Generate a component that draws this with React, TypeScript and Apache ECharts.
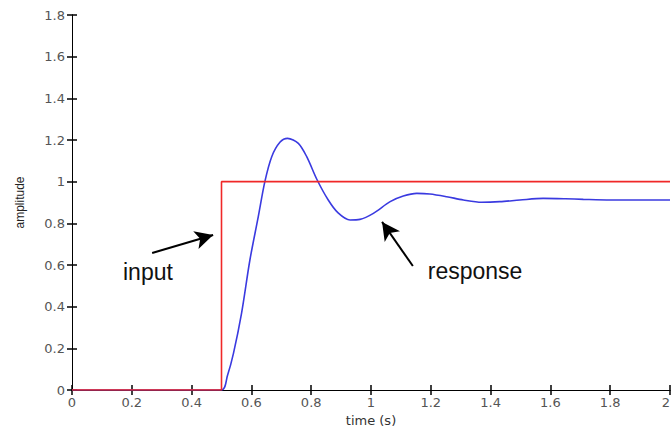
import React, { useEffect, useRef } from "react";
import * as echarts from "echarts";

const timeValues = [0, 0.5, 0.52, 0.54, 0.567, 0.595, 0.623, 0.645, 0.668, 0.696, 0.721, 0.757, 0.785, 0.82, 0.857, 0.89, 0.93, 0.963, 1.008, 1.064, 1.108, 1.153, 1.197, 1.253, 1.309, 1.37, 1.431, 1.498, 1.576, 1.65, 1.71, 1.8, 1.9, 2.0];
const responseValues = [0, 0, 0.07, 0.176, 0.368, 0.624, 0.832, 1.0, 1.12, 1.19, 1.208, 1.184, 1.12, 1.008, 0.912, 0.85, 0.816, 0.819, 0.848, 0.904, 0.931, 0.944, 0.941, 0.928, 0.912, 0.901, 0.904, 0.912, 0.92, 0.918, 0.915, 0.912, 0.912, 0.912];
const inputTimes = [0, 0.5, 0.5, 2.0];
const inputValues = [0, 0, 1, 1];

const inputArrow = { from: [0.268, 0.658], to: [0.472, 0.744] };
const responseArrow = { from: [1.14, 0.595], to: [1.037, 0.807] };
const annotationTexts = [
  { text: "input", at: [0.254, 0.566] },
  { text: "response", at: [1.348, 0.571] },
];

const FONT = "Liberation Sans, Arial, sans-serif";
const TICK_FONT = "DejaVu Sans, sans-serif";

export default function App() {
  const ref = useRef<HTMLDivElement>(null);
  useEffect(() => {
    if (!ref.current) return;
    const chart = echarts.init(ref.current, undefined, { renderer: "svg" });
    const axisLine = { show: true, lineStyle: { color: "#000", width: 1 } };
    const tick = { show: true, inside: true, length: 5, lineStyle: { color: "#000", width: 1.5 } };
    chart.setOption({
      animation: false,
      backgroundColor: "#fff",
      grid: { left: 72, right: 2, top: 15, bottom: 37, outerBoundsMode: "none", containLabel: false },
      xAxis: [
        {
          type: "value", min: 0, max: 2, interval: 0.2,
          axisLine, axisTick: tick, splitLine: { show: false },
          axisLabel: { color: "#555", fontSize: 13, fontFamily: TICK_FONT, margin: 6, alignMaxLabel: "right" },
          name: "time (s)", nameLocation: "middle", nameGap: 16,
          nameTextStyle: { color: "#333", fontSize: 13, fontFamily: TICK_FONT, lineHeight: 14 },
        },
        {
          type: "value", min: 0, max: 2, interval: 0.2, position: "top",
          axisLine, axisTick: tick, splitLine: { show: false }, axisLabel: { show: false },
        },
      ],
      yAxis: [
        {
          type: "value", min: 0, max: 1.8, interval: 0.2,
          axisLine, axisTick: tick, splitLine: { show: false },
          axisLabel: { color: "#555", fontSize: 13, fontFamily: TICK_FONT, margin: 7 },
          name: "amplitude", nameLocation: "middle", nameGap: 46, nameRotate: 90,
          nameTextStyle: { color: "#222", fontSize: 12, fontFamily: FONT },
        },
        {
          type: "value", min: 0, max: 1.8, interval: 0.2, position: "right",
          axisLine, axisTick: tick, splitLine: { show: false }, axisLabel: { show: false },
        },
      ],
      series: [
        {
          type: "line", name: "response", showSymbol: false, smooth: 0.3,
          data: timeValues.map((t, i) => [t, responseValues[i]]),
          lineStyle: { color: "#3a3ae0", width: 1.6 },
          markLine: {
            silent: true, symbol: ["none", "arrow"], symbolSize: [14, 18],
            label: { show: false },
            lineStyle: { color: "#000", width: 2, type: "solid" },
            data: [
              [{ coord: inputArrow.from }, { coord: inputArrow.to }],
              [{ coord: responseArrow.from }, { coord: responseArrow.to }],
            ],
          },
          markPoint: {
            silent: true, symbol: "circle", symbolSize: 1,
            itemStyle: { color: "transparent" },
            label: { show: true, position: "inside", color: "#111", fontSize: 23, fontFamily: FONT, formatter: (p: any) => p.name },
            data: annotationTexts.map((a) => ({ name: a.text, coord: a.at })),
          },
        },
        {
          type: "line", name: "input", showSymbol: false,
          data: inputTimes.map((t, i) => [t, inputValues[i]]),
          lineStyle: { color: "#f02828", width: 1.6 },
        },
      ],
    });
    return () => chart.dispose();
  }, []);
  return <div ref={ref} style={{ position: "absolute", left: 0, top: 0, width: 672, height: 427 }} />;
}
